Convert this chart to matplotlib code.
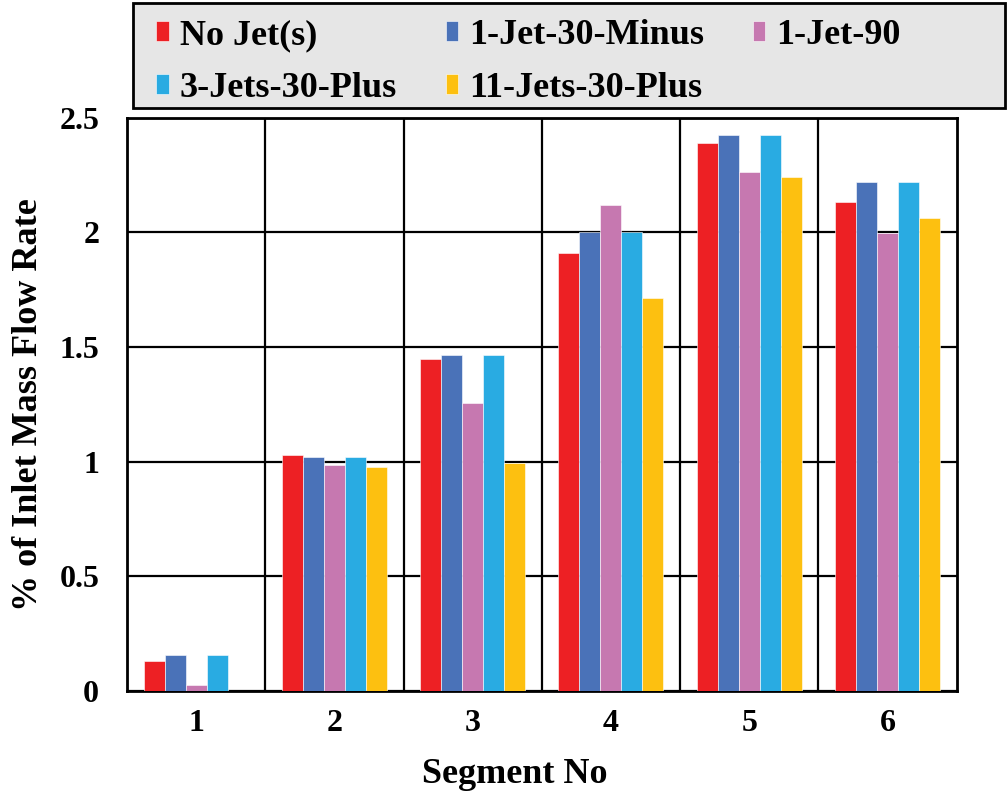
import matplotlib
matplotlib.use("Agg")
import matplotlib.pyplot as plt
import numpy as np
from matplotlib.patches import Rectangle

segments = [1, 2, 3, 4, 5, 6]
series_names = ["No Jet(s)", "1-Jet-30-Minus", "1-Jet-90", "3-Jets-30-Plus", "11-Jets-30-Plus"]
no_jet = [0.13, 1.027, 1.447, 1.909, 2.39, 2.13]
jet1_30_minus = [0.157, 1.018, 1.465, 2.0, 2.423, 2.22]
jet1_90 = [0.026, 0.983, 1.255, 2.12, 2.265, 1.995]
jets3_30_plus = [0.157, 1.018, 1.465, 2.0, 2.423, 2.22]
jets11_30_plus = [0.0, 0.975, 0.995, 1.715, 2.24, 2.063]
colors = ["#ED2024", "#4A72B8", "#C678B0", "#29ABE2", "#FDC010"]
yticks = [0, 0.5, 1, 1.5, 2, 2.5]
ytick_labels = ["0", "0.5", "1", "1.5", "2", "2.5"]

plt.rcParams['font.family'] = ['Liberation Serif', 'DejaVu Serif']
plt.rcParams['font.weight'] = 'bold'

fig = plt.figure(figsize=(10.08, 7.95), dpi=100)
ax = fig.add_axes([0.126, 0.131, 0.823, 0.721])

data = [no_jet, jet1_30_minus, jet1_90, jets3_30_plus, jets11_30_plus]
x = np.array(segments, dtype=float)
w = 0.152
bars = []
for i, (vals, name, c) in enumerate(zip(data, series_names, colors)):
    b = ax.bar(x + (i - 2) * w, vals, width=w, color=c, label=name, zorder=3,
               edgecolor='white', linewidth=0.4)
    bars.append(b)

ax.set_xlim(0.5, 6.5)
ax.set_ylim(0, 2.5)
ax.set_yticks(yticks)
ax.set_yticklabels(ytick_labels)
ax.set_xticks(segments)
ax.set_xticklabels([str(s) for s in segments])
ax.set_xticks([1.5, 2.5, 3.5, 4.5, 5.5], minor=True)
ax.tick_params(axis='both', which='both', length=0, labelsize=23)
ax.tick_params(axis='y', pad=20)
ax.tick_params(axis='x', pad=13)
ax.grid(axis='y', which='major', color='black', linewidth=1.6, zorder=0)
ax.grid(axis='x', which='minor', color='black', linewidth=1.6, zorder=0)
ax.set_axisbelow(True)
for s in ax.spines.values():
    s.set_linewidth(2)
    s.set_color('black')

ax.set_xlabel("Segment No", fontsize=26, fontweight='bold')
ax.xaxis.set_label_coords(0.467, -0.117)
ax.set_ylabel("% of Inlet Mass Flow Rate", fontsize=26, fontweight='bold')
ax.yaxis.set_label_coords(-0.099, 0.5)

# legend box
fig.patches.append(Rectangle((133/1008, (795-108)/795), (1005-133)/1008, 105/795,
                             transform=fig.transFigure, facecolor='#E6E6E6',
                             edgecolor='black', linewidth=2, zorder=0))
order = [0, 3, 1, 4, 2]
leg = fig.legend([bars[k] for k in order], [series_names[k] for k in order],
                 ncol=3, loc='upper left', bbox_to_anchor=(138/1008, 1 - 1/795),
                 frameon=False, handlelength=0.35, handleheight=0.45,
                 handletextpad=0.3, columnspacing=1.35, labelspacing=0.55,
                 borderpad=0, prop={'weight': 'bold', 'size': 26})

fig.savefig("out.png", dpi=100)
